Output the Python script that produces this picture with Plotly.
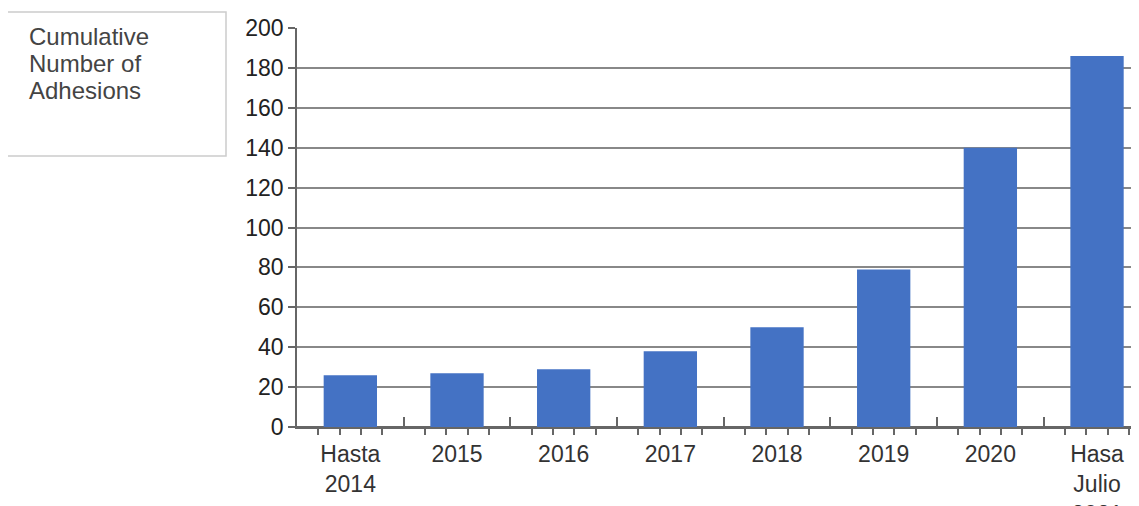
import plotly.graph_objects as go

# --- data ---
categories = ["Hasta<br>2014", "2015", "2016", "2017", "2018", "2019", "2020", "Hasa<br>Julio<br>2021"]
adhesions = [26, 27, 29, 38, 50, 79, 140, 186]
series_lines = ["Cumulative", "Number of", "Adhesions"]

OFF = 8  # page body margin
W, H = 1139 - OFF, 506 - OFF
L, T = 297 - OFF, 28 - OFF
B = H - (427 - OFF)
plot_w = W - L
cat_px = 106.67
x_max = -0.5 + plot_w / cat_px

FONT = "Liberation Sans, Arial, sans-serif"
FS = 23
x_pos = list(range(len(categories)))
bounds = [i - 0.5 for i in range(len(categories) + 1)]
minor_vals = [b + f for b in bounds[:-1] for f in (0.2, 0.4, 0.6, 0.8)]

fig = go.Figure()
fig.add_trace(go.Bar(x=x_pos, y=adhesions, width=0.5, marker_color="#4472C4",
                     marker_line_width=0, showlegend=False, xaxis="x"))
# empty trace so the boundary-tick axis is drawn
fig.add_trace(go.Scatter(x=[], y=[], xaxis="x2", showlegend=False))

fig.update_layout(
    width=W, height=H,
    margin=dict(l=L, r=0, t=T, b=B, autoexpand=False),
    plot_bgcolor="white", paper_bgcolor="white",
    font=dict(family=FONT, size=FS, color="#222"),
    xaxis=dict(range=[-0.5, x_max], tickmode="array", tickvals=x_pos, ticktext=categories,
               ticks="", showgrid=False, showline=True, linecolor="#666", linewidth=1.5,
               tickfont=dict(size=FS, color="#333"), ticklabelstandoff=6,
               minor=dict(tickmode="array", tickvals=minor_vals, ticks="outside",
                          ticklen=6, tickcolor="#666", tickwidth=1.5, showgrid=False),
               zeroline=False, automargin=False),
    xaxis2=dict(overlaying="x", matches="x", side="bottom", anchor="y",
                tickmode="array", tickvals=bounds, ticks="inside", ticklen=10,
                tickcolor="#666", tickwidth=1.5, showticklabels=False,
                showgrid=False, showline=False, zeroline=False),
    yaxis=dict(range=[0, 200], dtick=20, ticks="outside", ticklen=7, tickcolor="#666",
               tickwidth=1.5, showgrid=True, gridcolor="#888", gridwidth=1.5,
               showline=True, linecolor="#666", linewidth=1.5,
               zeroline=True, zerolinecolor="#666", zerolinewidth=1.5,
               tickfont=dict(size=FS, color="#222"), automargin=False),
)


# legend-like box (top, right, bottom sides); args are page pixels
def px_x(p):
    return (p - OFF - L) / plot_w


def px_y(p):
    return (H - B - (p - OFF)) / (H - T - B)


fig.add_shape(type="path", xref="paper", yref="paper",
              path=f"M {px_x(8)} {px_y(12)} L {px_x(226)} {px_y(12)} "
                   f"L {px_x(226)} {px_y(156)} L {px_x(8)} {px_y(156)}",
              line=dict(color="#ccc", width=1.5))
# the box text, one line each for the tighter line spacing
for i, line in enumerate(series_lines):
    fig.add_annotation(text=line, xref="paper", yref="paper",
                       x=px_x(27), y=px_y(36 + 27 * i), xanchor="left", yanchor="middle",
                       align="left", showarrow=False,
                       font=dict(family=FONT, size=24, color="#444"))

fig.write_html("out.html")
